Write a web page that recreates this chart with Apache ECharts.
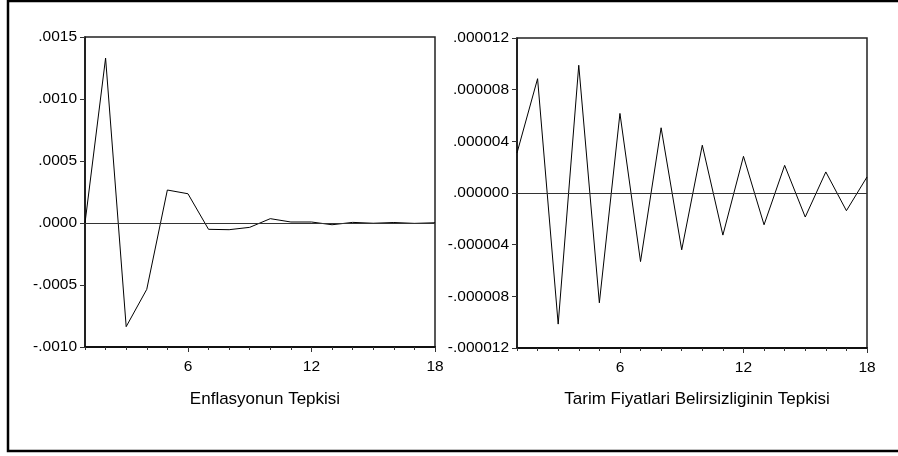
<!DOCTYPE html>
<html>
<head>
<meta charset="utf-8">
<script src="https://cdn.jsdelivr.net/npm/echarts@6/dist/echarts.min.js"></script>
<style>
html,body{margin:0;padding:0;background:#fff;}
#chart{width:898px;height:456px;}
</style>
</head>
<body>
<div id="chart"></div>
<script>
// Periods (horizontal axis)
const periods = ['1','2','3','4','5','6','7','8','9','10','11','12','13','14','15','16','17','18'];
const labeledPeriods = ['6','12','18'];

// Left panel: response of inflation
const leftTitle = 'Enflasyonun Tepkisi';
const inflationResponse = [0, 0.00133, -0.000836, -0.000535, 0.000266, 0.000236, -0.000051, -0.000054, -0.000035, 0.000035, 0.000008, 0.000008, -0.000014, 0.000005, -0.000002, 0.000004, -0.000003, 0.000002];
const leftYMin = -0.0010, leftYMax = 0.0015, leftYStep = 0.0005;

// Right panel: response of agricultural price uncertainty
const rightTitle = 'Tarim Fiyatlari Belirsizliginin Tepkisi';
const uncertaintyResponse = [0.0000031, 0.00000885, -0.00001015, 0.00000989, -0.0000085, 0.00000616, -0.00000531, 0.00000505, -0.0000044, 0.0000037, -0.00000326, 0.00000284, -0.00000246, 0.00000214, -0.00000186, 0.00000163, -0.00000137, 0.00000124];
const rightYMin = -0.000012, rightYMax = 0.000012, rightYStep = 0.000004;

const FONT = '"Liberation Sans", Arial, sans-serif';

function fmt(dec) {
  return function (v) {
    if (Math.abs(v) < 1e-15) v = 0;
    return v.toFixed(dec).replace('0.', '.');
  };
}

const grids = [
  {left: 85, top: 37, width: 350, height: 310},
  {left: 517, top: 38, width: 350, height: 310}
];

function xAxes(gi) {
  return [
    {
      gridIndex: gi, type: 'category', data: periods, boundaryGap: false, position: 'bottom',
      axisLine: {show: true, onZero: false, lineStyle: {color: '#111', width: 2}},
      axisTick: {show: true, interval: 0, length: 3, lineStyle: {color: '#333', width: 1}},
      axisLabel: {
        show: true, margin: 12, color: '#000', fontFamily: FONT, fontSize: 15.5,
        interval: function (i, v) { return labeledPeriods.indexOf(v) >= 0; }
      },
      splitLine: {show: false}
    },
    {
      gridIndex: gi, type: 'category', data: periods, boundaryGap: false, position: 'bottom',
      axisLine: {show: false, onZero: false},
      axisTick: {show: true, length: 5, lineStyle: {color: '#333', width: 1},
        interval: function (i, v) { return labeledPeriods.indexOf(v) >= 0; }},
      axisLabel: {show: false},
      splitLine: {show: false}
    }
  ];
}

function yAxis(gi, mn, mx, step, dec) {
  return {
    gridIndex: gi, type: 'value', min: mn, max: mx, interval: step,
    axisLine: {show: true, onZero: false, lineStyle: {color: '#111', width: 1.5}},
    axisTick: {show: true, length: 5, lineStyle: {color: '#333', width: 1}},
    axisLabel: {show: true, margin: 8, color: '#000', fontFamily: FONT, fontSize: 15.5, formatter: fmt(dec)},
    splitLine: {show: false}
  };
}

function lineSeries(xi, yi, data) {
  return {
    type: 'line', xAxisIndex: xi, yAxisIndex: yi, data: data,
    symbol: 'none', lineStyle: {color: '#000', width: 1}, silent: true,
    markLine: {
      silent: true, symbol: ['none', 'none'], label: {show: false},
      lineStyle: {color: '#333', type: 'solid', width: 1},
      emphasis: {disabled: true},
      data: [{yAxis: 0}]
    }
  };
}

const chart = echarts.init(document.getElementById('chart'), null, {renderer: 'canvas'});
chart.setOption({
  animation: false,
  backgroundColor: '#fff',
  grid: grids.map(g => Object.assign({show: true, borderColor: '#222', borderWidth: 1.5, backgroundColor: 'transparent'}, g)),
  xAxis: xAxes(0).concat(xAxes(1)),
  yAxis: [
    yAxis(0, leftYMin, leftYMax, leftYStep, 4),
    yAxis(1, rightYMin, rightYMax, rightYStep, 6)
  ],
  title: [
    {text: leftTitle, left: 260, top: 386, textAlign: 'center',
     textStyle: {fontFamily: FONT, fontSize: 17, fontWeight: 'normal', color: '#000'}},
    {text: rightTitle, left: 692, top: 386, textAlign: 'center',
     textStyle: {fontFamily: FONT, fontSize: 17, fontWeight: 'normal', color: '#000'}}
  ],
  series: [
    lineSeries(0, 0, inflationResponse),
    lineSeries(2, 1, uncertaintyResponse)
  ],
  graphic: [
    {type: 'rect', shape: {x: 8, y: 1, width: 900, height: 450},
     style: {fill: 'none', stroke: '#000', lineWidth: 2.5}, silent: true}
  ]
});
</script>
</body>
</html>
